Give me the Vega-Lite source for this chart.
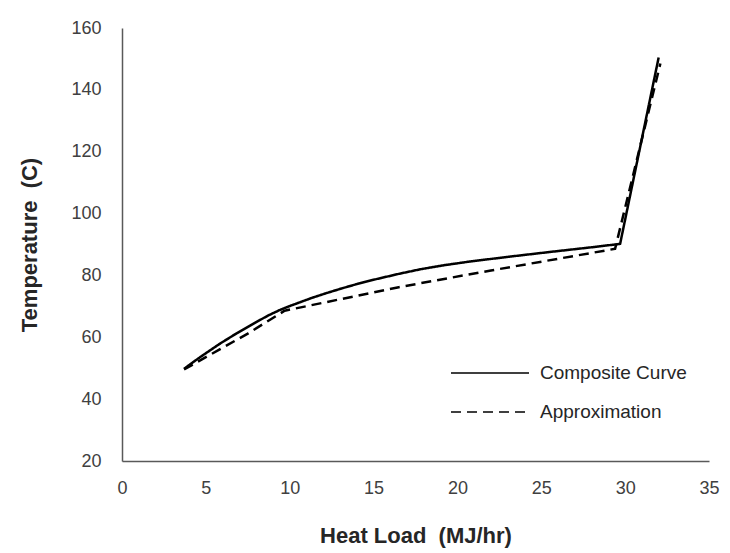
{
  "$schema": "https://vega.github.io/schema/vega-lite/v6.json",
  "autosize": {"type": "none"},
  "width": 587,
  "height": 433,
  "padding": {"left": 122, "top": 28, "right": 21, "bottom": 92},
  "background": "white",
  "config": {
    "view": {"stroke": null},
    "font": "Liberation Sans",
    "axis": {
      "grid": false,
      "ticks": false,
      "tickSize": 0,
      "labelFlush": false,
      "domainColor": "#595959",
      "domainWidth": 1.5,
      "labelFont": "Liberation Sans",
      "labelFontSize": 18,
      "labelColor": "#404040",
      "titleFont": "Liberation Sans",
      "titleFontSize": 22,
      "titleFontWeight": "bold",
      "titleColor": "#262626"
    }
  },
  "data": {
    "values": [
      {"series": "Composite Curve", "load": 3.7, "temp": 49.8},
      {"series": "Composite Curve", "load": 4.3, "temp": 52.2},
      {"series": "Composite Curve", "load": 4.85, "temp": 54.3},
      {"series": "Composite Curve", "load": 5.8, "temp": 57.8},
      {"series": "Composite Curve", "load": 6.84, "temp": 61.3},
      {"series": "Composite Curve", "load": 8.0, "temp": 64.9},
      {"series": "Composite Curve", "load": 8.7, "temp": 67.0},
      {"series": "Composite Curve", "load": 9.4, "temp": 68.8},
      {"series": "Composite Curve", "load": 10.0, "temp": 70.1},
      {"series": "Composite Curve", "load": 10.6, "temp": 71.3},
      {"series": "Composite Curve", "load": 11.3, "temp": 72.7},
      {"series": "Composite Curve", "load": 12.2, "temp": 74.3},
      {"series": "Composite Curve", "load": 13.1, "temp": 75.8},
      {"series": "Composite Curve", "load": 14.0, "temp": 77.2},
      {"series": "Composite Curve", "load": 15.0, "temp": 78.6},
      {"series": "Composite Curve", "load": 16.5, "temp": 80.5},
      {"series": "Composite Curve", "load": 17.8, "temp": 82.0},
      {"series": "Composite Curve", "load": 19.2, "temp": 83.3},
      {"series": "Composite Curve", "load": 20.75, "temp": 84.5},
      {"series": "Composite Curve", "load": 23.0, "temp": 86.0},
      {"series": "Composite Curve", "load": 25.7, "temp": 87.7},
      {"series": "Composite Curve", "load": 28.0, "temp": 89.1},
      {"series": "Composite Curve", "load": 29.7, "temp": 90.2},
      {"series": "Composite Curve", "load": 32.0, "temp": 150.5},
      {"series": "Approximation", "load": 3.7, "temp": 49.6},
      {"series": "Approximation", "load": 5.8, "temp": 56.0},
      {"series": "Approximation", "load": 7.5, "temp": 61.2},
      {"series": "Approximation", "load": 9.7, "temp": 68.6},
      {"series": "Approximation", "load": 16.5, "temp": 76.2},
      {"series": "Approximation", "load": 22.0, "temp": 81.6},
      {"series": "Approximation", "load": 29.4, "temp": 88.6},
      {"series": "Approximation", "load": 32.1, "temp": 148.5}
    ]
  },
  "mark": {"type": "line", "color": "#000000", "strokeWidth": 2.5, "strokeCap": "butt", "strokeJoin": "round"},
  "encoding": {
    "x": {
      "field": "load",
      "type": "quantitative",
      "scale": {"domain": [0, 35], "nice": false},
      "axis": {"values": [0, 5, 10, 15, 20, 25, 30, 35], "labelPadding": 18, "titlePadding": 28, "title": "Heat Load\u00a0\u00a0(MJ/hr)"}
    },
    "y": {
      "field": "temp",
      "type": "quantitative",
      "scale": {"domain": [20, 160], "nice": false, "zero": false},
      "axis": {"values": [20, 40, 60, 80, 100, 120, 140, 160], "labelPadding": 21, "titlePadding": 29, "title": "Temperature\u00a0\u00a0(C)"}
    },
    "strokeDash": {
      "field": "series",
      "type": "nominal",
      "sort": ["Composite Curve", "Approximation"],
      "scale": {"domain": ["Composite Curve", "Approximation"], "range": [[1, 0], [10, 6]]},
      "legend": {
        "title": null,
        "orient": "none",
        "legendX": 328,
        "legendY": 334,
        "padding": 0,
        "symbolType": "M-1,0H6.8",
        "symbolSize": 400,
        "symbolStrokeWidth": 1.5,
        "symbolStrokeColor": "#000000",
        "symbolFillColor": "transparent",
        "labelOffset": 68,
        "labelFontSize": 19,
        "labelFont": "Liberation Sans",
        "labelColor": "#262626",
        "rowPadding": 18,
        "labelLimit": 300
      }
    }
  }
}
